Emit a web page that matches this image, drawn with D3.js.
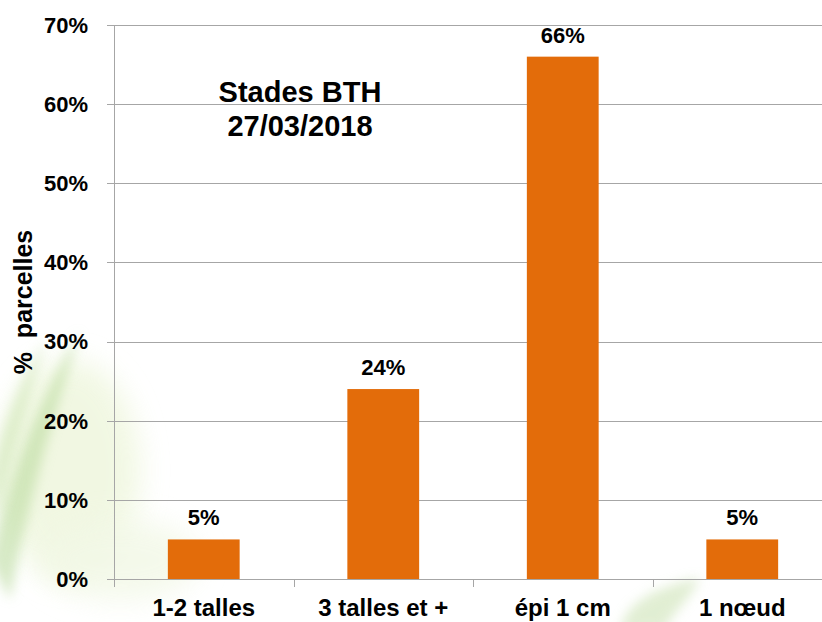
<!DOCTYPE html>
<html>
<head>
<meta charset="utf-8">
<script src="https://cdn.jsdelivr.net/npm/d3@7"></script>
<style>
  html, body { margin: 0; padding: 0; background: #ffffff; }
  svg { display: block; }
  text { font-family: "Liberation Sans", Arial, sans-serif; fill: #000; }
</style>
</head>
<body>
<script>
const categories = ["1-2 talles", "3 talles et +", "épi 1 cm", "1 nœud"];
const values = [0.05, 0.24, 0.66, 0.05];
const valueLabels = ["5%", "24%", "66%", "5%"];
const yTicks = [0, 0.1, 0.2, 0.3, 0.4, 0.5, 0.6, 0.7];
const titleLines = ["Stades BTH", "27/03/2018"];
const yTitle = "% parcelles";

const W = 822, H = 622;
const svg = d3.select("body").append("svg").attr("width", W).attr("height", H);

// faint leafy background
const defs = svg.append("defs");
const blur = defs.append("filter").attr("id", "blur").attr("x", "-50%").attr("y", "-50%").attr("width", "200%").attr("height", "200%");
blur.append("feGaussianBlur").attr("stdDeviation", 6);
const blur2 = defs.append("filter").attr("id", "blur2").attr("x", "-50%").attr("y", "-50%").attr("width", "200%").attr("height", "200%");
blur2.append("feGaussianBlur").attr("stdDeviation", 14);
const bg = svg.append("g").attr("class", "bg");
bg.append("ellipse").attr("cx", 70).attr("cy", 470).attr("rx", 70).attr("ry", 110)
  .attr("fill", "#eef6dc").attr("opacity", 0.8).attr("filter", "url(#blur2)");
bg.append("path").attr("d", "M-10,560 C10,470 40,400 80,330 C60,400 35,470 10,600 Z")
  .attr("fill", "#b7d99a").attr("opacity", 0.55).attr("filter", "url(#blur)");
bg.append("path").attr("d", "M-10,480 C0,430 20,380 45,340 C30,400 15,440 0,520 Z")
  .attr("fill", "#cfe6b5").attr("opacity", 0.6).attr("filter", "url(#blur)");
bg.append("path").attr("d", "M620,630 C625,610 640,590 700,578 C690,600 670,615 665,630 Z")
  .attr("fill", "#cde3b6").attr("opacity", 0.6).attr("filter", "url(#blur)");
bg.append("ellipse").attr("cx", 120).attr("cy", 560).attr("rx", 80).attr("ry", 40)
  .attr("fill", "#f2f8e6").attr("opacity", 0.8).attr("filter", "url(#blur2)");

// scales
const x = d3.scaleBand().domain(categories).range([114, 832]).paddingInner(0.6).paddingOuter(0.3);
const y = d3.scaleLinear().domain([0, 0.7]).range([579, 25]);

const gridColor = "#a6a6a6";

// gridlines
svg.append("g").selectAll("line").data(yTicks).join("line")
  .attr("x1", 107).attr("x2", W)
  .attr("y1", d => Math.round(y(d)) + 0.5).attr("y2", d => Math.round(y(d)) + 0.5)
  .attr("stroke", gridColor).attr("stroke-width", 1);

// y axis line
svg.append("line").attr("x1", 114.5).attr("x2", 114.5).attr("y1", y(0.7)).attr("y2", 587)
  .attr("stroke", gridColor).attr("stroke-width", 1);

// category tick marks (band boundaries)
const bounds = categories.slice(1).map(c => x(c) - x.step() * x.paddingInner() / 2);
svg.append("g").selectAll("line").data(bounds).join("line")
  .attr("x1", d => Math.round(d) + 0.5).attr("x2", d => Math.round(d) + 0.5)
  .attr("y1", 579).attr("y2", 587)
  .attr("stroke", gridColor).attr("stroke-width", 1);

// bars
svg.append("g").selectAll("rect").data(values).join("rect")
  .attr("x", (d, i) => x(categories[i]))
  .attr("width", x.bandwidth())
  .attr("y", d => y(d))
  .attr("height", d => y(0) - y(d))
  .attr("fill", "#e36c0a");

// value labels
svg.append("g").selectAll("text").data(values).join("text")
  .attr("x", (d, i) => x(categories[i]) + x.bandwidth() / 2)
  .attr("y", d => y(d) - 14)
  .attr("text-anchor", "middle")
  .attr("font-size", 22).attr("font-weight", "bold")
  .text((d, i) => valueLabels[i]);

// y tick labels
svg.append("g").selectAll("text").data(yTicks).join("text")
  .attr("x", 88).attr("y", d => y(d))
  .attr("dy", "0.36em")
  .attr("text-anchor", "end")
  .attr("font-size", 22).attr("font-weight", "bold")
  .text(d => d3.format(".0%")(d));

// category labels
svg.append("g").selectAll("text").data(categories).join("text")
  .attr("x", d => x(d) + x.bandwidth() / 2)
  .attr("y", 616)
  .attr("text-anchor", "middle")
  .attr("font-size", 24).attr("font-weight", "bold")
  .text(d => d);

// y title
svg.append("text")
  .attr("transform", "translate(32,302) rotate(-90)")
  .attr("text-anchor", "middle")
  .attr("font-size", 25).attr("font-weight", "bold")
  .attr("xml:space", "preserve")
  .style("white-space", "pre")
  .text(yTitle.replace(" ", "  "));

// chart title
svg.append("g").selectAll("text").data(titleLines).join("text")
  .attr("x", 300).attr("y", (d, i) => 102 + i * 34)
  .attr("text-anchor", "middle")
  .attr("font-size", 29).attr("font-weight", "bold")
  .text(d => d);
</script>
</body>
</html>
